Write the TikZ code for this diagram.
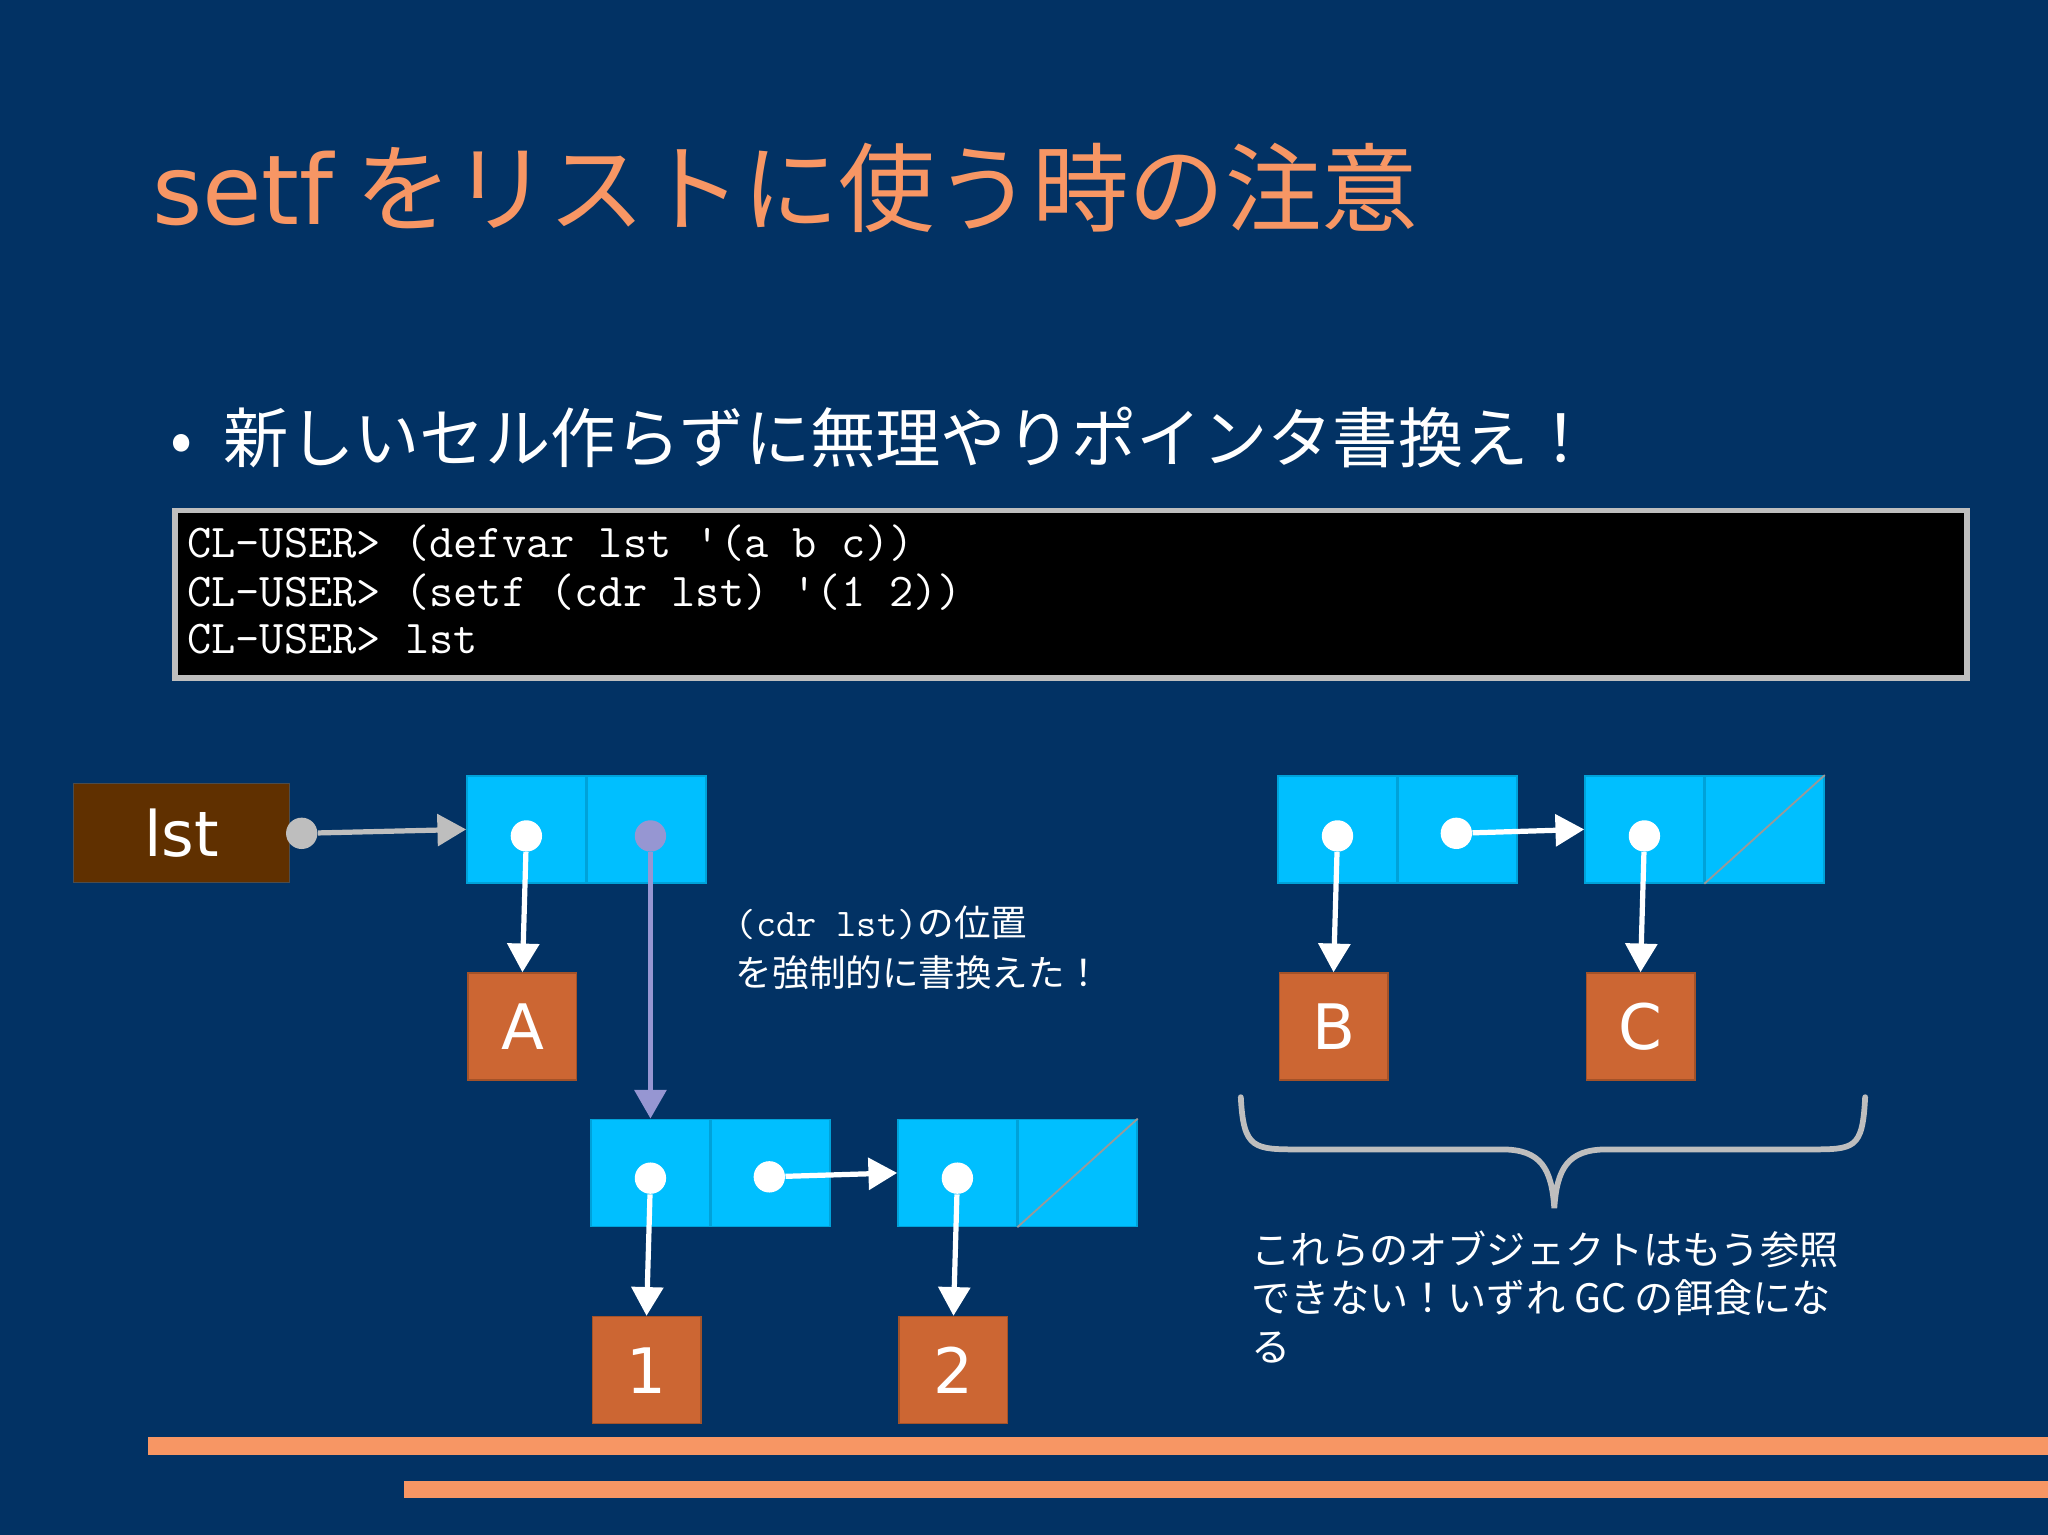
\documentclass[tikz,border=0pt]{standalone}
\usepackage{fontspec}
\setmainfont{Noto Sans CJK JP}
\newfontfamily\lat{DejaVu Sans}
\usetikzlibrary{arrows.meta}
\definecolor{bg}{RGB}{2,50,100}
\definecolor{ttl}{RGB}{247,150,100}
\definecolor{cellb}{RGB}{0,191,255}
\definecolor{boxo}{RGB}{204,102,51}
\definecolor{lstb}{RGB}{96,48,0}
\definecolor{lav}{RGB}{150,150,210}
\definecolor{gry}{RGB}{190,190,190}
\begin{document}
\begin{tikzpicture}[x=0.5pt,y=-0.5pt,
 half/.style={rectangle,fill=cellb,draw=cellb!85!black,line width=0.6pt,minimum width=45.5pt,minimum height=41pt,inner sep=0pt},
 box/.style={rectangle,fill=boxo,draw=boxo!80!black,line width=0.6pt,minimum width=41.5pt,minimum height=41pt,inner sep=0pt,text=white,font=\lat\fontsize{24}{24}\selectfont},
 dot/.style={circle,fill=white,inner sep=0pt,minimum size=12pt},
 ptr/.style={white,line width=2pt,-{Triangle[length=11pt,width=12pt]}},
 code/.style={anchor=base west,text=white,font=\ttfamily\fontsize{18}{18}\selectfont,inner sep=0pt}]
\useasboundingbox (0,0) rectangle (1568,1175);
\fill[bg] (0,0) rectangle (1568,1175);
\node[anchor=base west,text=ttl,inner sep=0pt,font=\fontsize{37}{37}\selectfont] (title) at (116,172) {{\lat setf} をリストに使う時の注意};
\node[anchor=base west,text=white,inner sep=0pt,font=\fontsize{25}{25}\selectfont] (bul) at (130,354) {•\hspace{12pt}新しいセル作らずに無理やりポインタ書換え！};
\node[draw=gry,line width=2pt,fill=black,minimum width=686pt,minimum height=64pt,inner sep=0pt] (term) at (820,455) {};
\node[code] (c1) at (143,427) {CL-USER> (defvar lst '(a b c))};
\node[code] (c2) at (143,464) {CL-USER> (setf (cdr lst) '(1 2))};
\node[code] (c3) at (143,500) {CL-USER> lst};
% lst
\node[rectangle,fill=lstb,draw=black!70,minimum width=83pt,minimum height=38pt,inner sep=0pt,text=white,font=\lat\fontsize{24}{24}\selectfont] (lst) at (139,638) {lst};
\node[circle,fill=gry,inner sep=0pt,minimum size=12pt] (dl) at (231,638) {};
% cell1
\node[half] (a1) at (403,635) {}; \node[half] (d1) at (495,635) {};
\draw[gry,line width=2pt,-{Triangle[length=11pt,width=12pt]}] (dl) -- (a1.west);
\node[box] (A) at (400,786) {A};
\node[dot] (pa1) at (403,640) {};
\draw[ptr] (pa1) -- (A.north);
\node[circle,fill=lav,inner sep=0pt,minimum size=12pt] (pd1) at (498,640) {};
% cell2
\node[half] (a2) at (498,898) {}; \node[half] (d2) at (590,898) {};
\draw[lav,line width=2pt,-{Triangle[length=11pt,width=12pt]}] (pd1) -- (a2.north);
\node[box] (one) at (495,1049) {1};
\node[dot] (pa2) at (498,902) {};
\draw[ptr] (pa2) -- (one.north);
% cell3
\node[half] (a3) at (733,898) {}; \node[half] (d3) at (825,898) {};
\draw[black!40,line width=0.7pt] (d3.south west) -- (d3.north east);
\node[dot] (pd2) at (589,901) {};
\draw[ptr] (pd2) -- (a3.west);
\node[box] (two) at (730,1049) {2};
\node[dot] (pa3) at (733,902) {};
\draw[ptr] (pa3) -- (two.north);
\node[anchor=base west,text=white,inner sep=0pt,font=\fontsize{14}{14}\selectfont] (n1) at (563,717) {{\ttfamily\fontsize{15}{15}\selectfont (cdr lst)}の位置};
\node[anchor=base west,text=white,inner sep=0pt,font=\fontsize{14}{14}\selectfont] (n2) at (563,755) {を強制的に書換えた！};
% cell4
\node[half] (a4) at (1024,635) {}; \node[half] (d4) at (1116,635) {};
\node[box] (B) at (1021,786) {B};
\node[dot] (pa4) at (1024,640) {};
\draw[ptr] (pa4) -- (B.north);
% cell5
\node[half] (a5) at (1259,635) {}; \node[half] (d5) at (1351,635) {};
\draw[black!40,line width=0.7pt] (d5.south west) -- (d5.north east);
\node[dot] (pd4) at (1115,638) {};
\draw[ptr] (pd4) -- (a5.west);
\node[box] (C) at (1256,786) {C};
\node[dot] (pa5) at (1259,640) {};
\draw[ptr] (pa5) -- (C.north);
% brace
\coordinate (bl) at (950,840); \coordinate (bt) at (1190,925); \coordinate (br) at (1428,840);
\draw[gry,line width=2.2pt,line cap=round] (bl) .. controls (952,880) and (960,880) .. (995,880) -- (1150,880) .. controls (1180,880) and (1188,895) .. (bt) .. controls (1192,895) and (1200,880) .. (1230,880) -- (1385,880) .. controls (1420,880) and (1426,880) .. (br);
\node[anchor=base west,text=white,inner sep=0pt,align=left,font=\fontsize{15}{19}\selectfont] (n3) at (958,968) {これらのオブジェクトはもう参照};
\node[anchor=base west,text=white,inner sep=0pt,font=\fontsize{15}{19}\selectfont] (n4) at (958,1005) {できない！いずれ GC の餌食にな};
\node[anchor=base west,text=white,inner sep=0pt,font=\fontsize{15}{19}\selectfont] (n5) at (958,1042) {る};
% bars
\fill[ttl] (113,1100) rectangle (1568,1114);
\fill[ttl] (309,1134) rectangle (1568,1147);
\end{tikzpicture}
\end{document}
